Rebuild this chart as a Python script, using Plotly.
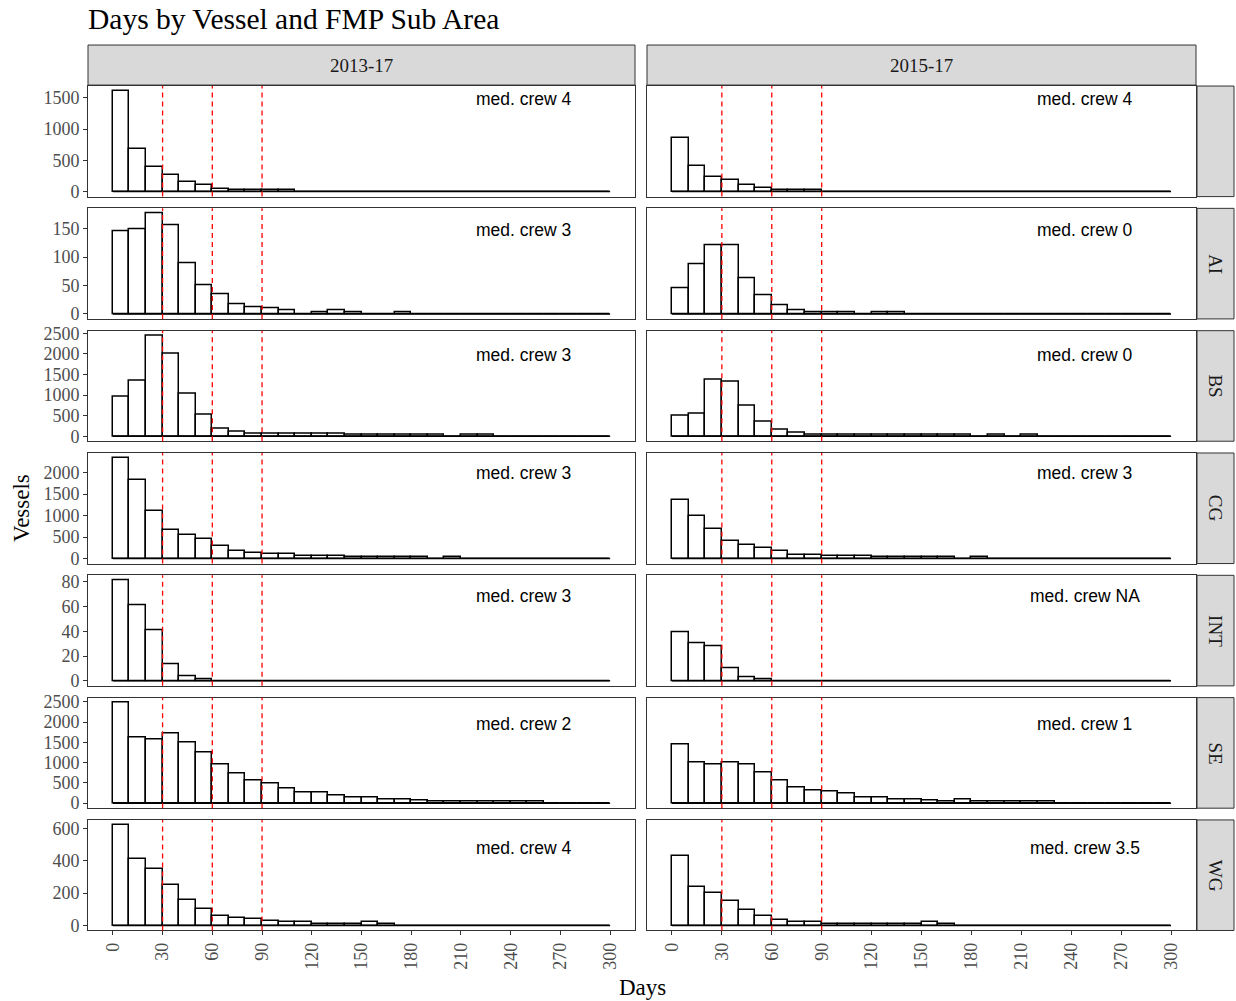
import plotly.graph_objects as go

# ---- data -------------------------------------------------------------
periods = ["2013-17", "2015-17"]
areas = ["", "AI", "BS", "CG", "INT", "SE", "WG"]

bin_width = 10
bin_starts = list(range(0, 300, bin_width))          # 0,10,...,290
x_ticks = list(range(0, 301, 30))
ref_days = [30, 60, 90]

# vessel counts per 10-day bin, period 2013-17
days_none_1317 = [1610, 680, 390, 265, 160, 100, 48, 27, 22, 20, 18, 0, 0, 0, 0,
                  0, 0, 0, 0, 0, 0, 0, 0, 0, 0, 0, 0, 0, 0, 0]
days_ai_1317 = [145, 148, 177, 156, 89, 50, 34, 17, 11, 9, 6, 0, 3, 6, 3,
                0, 0, 3, 0, 0, 0, 0, 0, 0, 0, 0, 0, 0, 0, 0]
days_bs_1317 = [961, 1362, 2443, 2018, 1040, 513, 192, 112, 72, 72, 72, 72, 72, 72, 40,
                40, 40, 40, 40, 40, 0, 38, 38, 0, 0, 0, 0, 0, 0, 0]
days_cg_1317 = [2338, 1823, 1115, 669, 554, 446, 292, 177, 131, 100, 100, 62, 62, 62, 30,
                30, 30, 30, 30, 0, 38, 0, 0, 0, 0, 0, 0, 0, 0, 0]
days_int_1317 = [81, 61, 41, 13, 4, 1, 0, 0, 0, 0, 0, 0, 0, 0, 0,
                 0, 0, 0, 0, 0, 0, 0, 0, 0, 0, 0, 0, 0, 0, 0]
days_se_1317 = [2480, 1628, 1578, 1710, 1504, 1241, 962, 723, 551, 477, 353, 271, 271, 189, 140,
                140, 99, 99, 74, 40, 40, 40, 40, 40, 40, 40, 0, 0, 0, 0]
days_wg_1317 = [620, 410, 350, 250, 160, 100, 60, 45, 40, 25, 20, 20, 12, 12, 12,
                20, 10, 0, 0, 0, 0, 0, 0, 0, 0, 0, 0, 0, 0, 0]

# vessel counts per 10-day bin, period 2015-17
days_none_1517 = [852, 413, 236, 182, 107, 54, 30, 25, 20, 0, 0, 0, 0, 0, 0,
                  0, 0, 0, 0, 0, 0, 0, 0, 0, 0, 0, 0, 0, 0, 0]
days_ai_1517 = [45, 87, 120, 120, 63, 32, 15, 6, 2, 2, 2, 0, 3, 3, 0,
                0, 0, 0, 0, 0, 0, 0, 0, 0, 0, 0, 0, 0, 0, 0]
days_bs_1517 = [505, 545, 1376, 1320, 737, 352, 168, 80, 40, 40, 40, 40, 40, 40, 40,
                40, 40, 40, 0, 40, 0, 40, 0, 0, 0, 0, 0, 0, 0, 0]
days_cg_1517 = [1361, 1000, 692, 400, 323, 246, 177, 92, 92, 62, 62, 62, 30, 30, 30,
                30, 30, 0, 38, 0, 0, 0, 0, 0, 0, 0, 0, 0, 0, 0]
days_int_1517 = [39, 30, 28, 10, 3, 1, 0, 0, 0, 0, 0, 0, 0, 0, 0,
                 0, 0, 0, 0, 0, 0, 0, 0, 0, 0, 0, 0, 0, 0, 0]
days_se_1517 = [1439, 995, 954, 995, 954, 756, 551, 395, 312, 280, 230, 148, 148, 99, 99,
                66, 41, 82, 33, 33, 33, 33, 33, 0, 0, 0, 0, 0, 0, 0]
days_wg_1517 = [430, 240, 200, 150, 95, 60, 35, 22, 20, 12, 10, 10, 10, 10, 10,
                20, 10, 0, 0, 0, 0, 0, 0, 0, 0, 0, 0, 0, 0, 0]

med_crew_1317 = ["4", "3", "3", "3", "3", "2", "4"]
med_crew_1517 = ["4", "0", "0", "3", "NA", "1", "3.5"]

y_ticks = [
    [0, 500, 1000, 1500],
    [0, 50, 100, 150],
    [0, 500, 1000, 1500, 2000, 2500],
    [0, 500, 1000, 1500, 2000],
    [0, 20, 40, 60, 80],
    [0, 500, 1000, 1500, 2000, 2500],
    [0, 200, 400, 600],
]

counts = [
    [days_none_1317, days_none_1517],
    [days_ai_1317, days_ai_1517],
    [days_bs_1317, days_bs_1517],
    [days_cg_1317, days_cg_1517],
    [days_int_1317, days_int_1517],
    [days_se_1317, days_se_1517],
    [days_wg_1317, days_wg_1517],
]
crew_labels = [med_crew_1317, med_crew_1517]

# ---- layout geometry (pixels) ----------------------------------------
W, H = 1236, 1001
col_px = [(88, 635), (647, 1196)]
strip_right_px = (1197, 1234)
strip_top_px = (38.5, 79)
row_top0, row_step, row_h = 80.0, 123.8, 111.9
label_drop_px = [13, 22, 25, 20, 21, 27, 28]   # label centre below panel top
label_day = 248

SERIF = "Liberation Serif, Times New Roman, serif"
SANS = "Liberation Sans, Arial, sans-serif"
GREY20 = "#333333"
GREY30 = "#4D4D4D"
STRIP_FILL = "#D9D9D9"
BAR_LINE = 1.5


def fx(px):
    return px / W


def fy(px):
    return 1 - px / H


centers = [s + bin_width / 2 for s in bin_starts]
base_x = [bin_starts[0], bin_starts[-1] + bin_width]

fig = go.Figure()
shapes = []
annotations = []
layout_axes = {}

for r, area in enumerate(areas):
    top = row_top0 + r * row_step
    bot = top + row_h
    ymax = max(max(counts[r][0]), max(counts[r][1]))
    y_range = [-0.05 * ymax, 1.05 * ymax]
    for c in range(2):
        idx = r * 2 + c + 1
        sfx = "" if idx == 1 else str(idx)
        xname, yname = "x" + sfx, "y" + sfx
        vals = counts[r][c]

        fig.add_trace(go.Bar(
            x=centers, y=vals, width=bin_width,
            marker=dict(color="white", line=dict(color="black", width=BAR_LINE)),
            xaxis=xname, yaxis=yname, showlegend=False, hoverinfo="x+y",
        ))
        # zero-count bins collapse onto a line along the baseline
        fig.add_trace(go.Scatter(
            x=base_x, y=[0, 0], mode="lines",
            line=dict(color="black", width=BAR_LINE),
            xaxis=xname, yaxis=yname, showlegend=False, hoverinfo="skip",
        ))

        bottom_row = r == len(areas) - 1
        layout_axes["xaxis" + sfx] = dict(
            domain=[fx(col_px[c][0]), fx(col_px[c][1])],
            anchor=yname, range=[-15, 315],
            tickmode="array", tickvals=x_ticks,
            ticktext=[str(t) for t in x_ticks],
            showticklabels=bottom_row, ticks="outside" if bottom_row else "",
            ticklen=4, tickwidth=1, tickcolor=GREY20,
            tickangle=-90,
            tickfont=dict(family=SERIF, size=18, color=GREY30),
            showgrid=False, zeroline=False,
            showline=True, mirror=True, linecolor=GREY20, linewidth=1,
        )
        layout_axes["yaxis" + sfx] = dict(
            domain=[fy(bot), fy(top)],
            anchor=xname, range=y_range,
            tickmode="array", tickvals=y_ticks[r],
            showticklabels=(c == 0), ticks="outside" if c == 0 else "",
            ticklen=4, tickwidth=1, tickcolor=GREY20,
            tickfont=dict(family=SERIF, size=18, color=GREY30),
            showgrid=False, zeroline=False,
            showline=True, mirror=True, linecolor=GREY20, linewidth=1,
        )

        for d in ref_days:
            shapes.append(dict(
                type="line", xref=xname, yref=yname + " domain",
                x0=d, x1=d, y0=0, y1=1,
                line=dict(color="red", width=1.3, dash="5px,4px"),
                layer="above",
            ))

        annotations.append(dict(
            xref=xname, yref=yname + " domain",
            x=label_day, y=1 - label_drop_px[r] / row_h,
            text="med. crew " + crew_labels[c][r],
            showarrow=False, xanchor="center", yanchor="middle",
            font=dict(family=SANS, size=17.5, color="black"),
        ))

    # right-hand strip for the area
    shapes.append(dict(
        type="rect", xref="paper", yref="paper",
        x0=fx(strip_right_px[0]), x1=fx(strip_right_px[1]),
        y0=fy(bot), y1=fy(top),
        fillcolor=STRIP_FILL, line=dict(color=GREY20, width=1), layer="below",
    ))
    annotations.append(dict(
        xref="paper", yref="paper",
        x=fx(sum(strip_right_px) / 2), y=fy((top + bot) / 2),
        text=area, showarrow=False, textangle=90,
        xanchor="center", yanchor="middle",
        font=dict(family=SERIF, size=19, color="#1A1A1A"),
    ))

# top strips for the periods
for c, p in enumerate(periods):
    shapes.append(dict(
        type="rect", xref="paper", yref="paper",
        x0=fx(col_px[c][0]), x1=fx(col_px[c][1]),
        y0=fy(strip_top_px[1]), y1=fy(strip_top_px[0]),
        fillcolor=STRIP_FILL, line=dict(color=GREY20, width=1), layer="below",
    ))
    annotations.append(dict(
        xref="paper", yref="paper",
        x=fx(sum(col_px[c]) / 2), y=fy(sum(strip_top_px) / 2),
        text=p, showarrow=False, xanchor="center", yanchor="middle",
        font=dict(family=SERIF, size=19, color="#1A1A1A"),
    ))

# titles
annotations.append(dict(
    xref="paper", yref="paper", x=fx(86), y=fy(12),
    text="Days by Vessel and FMP Sub Area", showarrow=False,
    xanchor="left", yanchor="middle",
    font=dict(family=SERIF, size=29.5, color="black"),
))
annotations.append(dict(
    xref="paper", yref="paper", x=fx((col_px[0][0] + col_px[1][1]) / 2), y=fy(992),
    text="Days", showarrow=False, xanchor="center", yanchor="middle",
    font=dict(family=SERIF, size=23, color="black"),
))
annotations.append(dict(
    xref="paper", yref="paper", x=fx(22), y=fy(507),
    text="Vessels", showarrow=False, textangle=-90,
    xanchor="center", yanchor="middle",
    font=dict(family=SERIF, size=23, color="black"),
))

fig.update_layout(
    width=W, height=H,
    margin=dict(l=0, r=0, t=0, b=0),
    paper_bgcolor="white", plot_bgcolor="white",
    bargap=0, showlegend=False,
    shapes=shapes, annotations=annotations,
    **layout_axes,
)

fig.write_html("out.html")
